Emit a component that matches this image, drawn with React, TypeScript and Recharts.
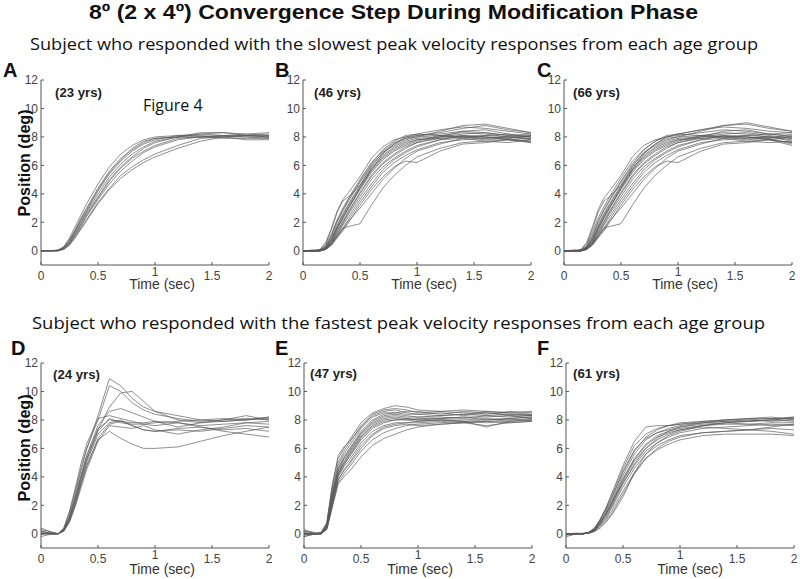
import React from 'react';
import { LineChart, Line, XAxis, YAxis } from 'recharts';

const TIME = [0, 0.1, 0.15, 0.2, 0.25, 0.3, 0.35, 0.4, 0.5, 0.6, 0.7, 0.8, 0.9, 1.0, 1.2, 1.4, 1.6, 1.8, 2.0];
const TIME_TICKS = [0, 0.5, 1, 1.5, 2];
const POS_TICKS = [0, 2, 4, 6, 8, 10, 12];

const TITLE = '8º (2 x 4º) Convergence Step During Modification Phase';
const SUB_SLOW = 'Subject who responded with the slowest peak velocity responses from each age group';
const SUB_FAST = 'Subject who responded with the fastest peak velocity responses from each age group';
const PANEL_LETTERS = ['A', 'B', 'C', 'D', 'E', 'F'];
const PANEL_AGES = ['(23 yrs)', '(46 yrs)', '(66 yrs)', '(24 yrs)', '(47 yrs)', '(61 yrs)'];
const X_LABEL = 'Time (sec)';
const Y_LABEL = 'Position (deg)';
const NOTE = 'Figure 4';

const A_TRACES = [
  [0, 0, 0.05, 0.3, 0.9, 1.7, 2.5, 3.3, 4.7, 5.9, 6.8, 7.4, 7.8, 8.0, 8.1, 8.1, 8.0, 8.1, 8.1],
  [0, 0, 0.05, 0.25, 0.8, 1.5, 2.3, 3.0, 4.4, 5.6, 6.5, 7.1, 7.6, 7.9, 8.0, 8.0, 8.1, 8.0, 8.0],
  [0, 0, 0, 0.2, 0.7, 1.4, 2.1, 2.8, 4.2, 5.4, 6.3, 7.0, 7.5, 7.8, 8.1, 8.2, 8.1, 8.2, 8.3],
  [0, 0, 0, 0.2, 0.6, 1.3, 2.0, 2.7, 4.0, 5.2, 6.1, 6.8, 7.3, 7.7, 8.0, 8.0, 7.9, 7.9, 7.9],
  [0, 0.02, 0.05, 0.2, 0.6, 1.2, 1.9, 2.6, 3.8, 5.0, 5.9, 6.6, 7.2, 7.6, 8.0, 8.2, 8.3, 8.1, 8.0],
  [0, 0, 0, 0.15, 0.5, 1.1, 1.8, 2.5, 3.7, 4.9, 5.8, 6.5, 7.0, 7.4, 7.9, 8.0, 8.0, 7.8, 7.8],
  [0, 0, 0, 0.15, 0.5, 1.1, 1.7, 2.4, 3.6, 4.7, 5.6, 6.3, 6.9, 7.3, 7.8, 8.0, 8.1, 8.1, 8.2],
  [0, 0, 0.02, 0.1, 0.4, 1.0, 1.6, 2.2, 3.4, 4.4, 5.3, 5.9, 6.4, 6.8, 7.4, 7.9, 8.0, 8.0, 7.9],
  [0, 0, 0, 0.1, 0.4, 0.9, 1.5, 2.1, 3.3, 4.3, 5.1, 5.7, 6.2, 6.6, 7.2, 7.7, 8.0, 8.1, 8.0],
  [0, 0.02, 0, 0.2, 0.7, 1.4, 2.2, 2.9, 4.3, 5.5, 6.4, 7.2, 7.7, 7.9, 8.0, 8.3, 8.3, 8.2, 8.1],
];

const B_TRACES = [
  [0, 0, 0.1, 0.6, 1.6, 2.8, 3.6, 4.1, 5.2, 6.5, 7.3, 7.8, 8.0, 8.1, 8.2, 8.4, 8.3, 8.1, 8.2],
  [0, 0, 0.05, 0.4, 1.2, 2.2, 3.0, 3.7, 5.0, 6.2, 7.0, 7.6, 7.9, 8.1, 8.3, 8.6, 8.8, 8.5, 8.3],
  [0, 0.05, 0.05, 0.3, 1.0, 2.0, 2.8, 3.5, 4.8, 6.0, 6.9, 7.4, 7.8, 8.0, 8.1, 8.0, 7.9, 8.0, 7.9],
  [0, 0, 0, 0.3, 0.9, 1.8, 2.6, 3.3, 4.6, 5.8, 6.7, 7.3, 7.7, 7.9, 8.0, 8.1, 8.0, 7.8, 7.7],
  [0, 0, 0, 0.2, 0.8, 1.7, 2.5, 3.2, 4.5, 5.7, 6.6, 7.2, 7.6, 7.8, 8.0, 8.2, 8.3, 8.1, 8.0],
  [0, -0.05, 0, 0.2, 0.7, 1.6, 2.4, 3.1, 4.4, 5.6, 6.5, 7.1, 7.5, 7.8, 7.9, 8.0, 8.1, 8.2, 8.0],
  [0, 0, 0, 0.2, 0.7, 1.5, 2.3, 3.0, 4.3, 5.5, 6.4, 7.0, 7.4, 7.7, 8.1, 8.3, 8.2, 8.0, 7.8],
  [0, 0, 0.05, 0.15, 0.6, 1.4, 2.1, 2.8, 4.1, 5.3, 6.2, 6.8, 7.3, 7.6, 7.9, 8.0, 7.8, 7.9, 8.1],
  [0, 0, 0, 0.15, 0.6, 1.3, 2.0, 2.7, 4.0, 5.2, 6.1, 6.7, 7.2, 7.6, 8.0, 8.4, 8.5, 8.2, 8.0],
  [0, 0, 0, 0.1, 0.5, 1.2, 1.9, 2.6, 3.8, 5.0, 5.9, 6.5, 7.0, 7.4, 7.8, 7.9, 7.7, 7.6, 7.8],
  [0, 0, 0, 0.1, 0.5, 1.1, 1.8, 2.4, 3.6, 4.7, 5.7, 6.4, 6.9, 7.3, 7.8, 8.1, 8.0, 7.9, 7.6],
  [0, 0.05, 0, 0.1, 0.4, 1.0, 1.6, 2.2, 3.4, 4.5, 5.5, 6.2, 6.7, 7.1, 7.6, 7.8, 7.9, 8.0, 7.9],
  [0, 0, 0, 0.1, 0.5, 1.1, 1.6, 1.7, 1.9, 3.2, 4.4, 5.3, 6.0, 6.6, 7.2, 7.6, 7.7, 7.8, 7.7],
  [0, 0, 0, 0.1, 0.4, 0.9, 1.4, 2.0, 3.2, 4.3, 5.2, 5.9, 6.3, 6.2, 7.0, 7.5, 7.6, 7.8, 7.6],
  [0, 0, 0.1, 0.5, 1.5, 2.7, 3.5, 3.8, 4.6, 5.9, 6.9, 7.5, 7.9, 8.0, 8.4, 8.8, 8.9, 8.6, 8.3],
  [0, 0, 0, 0.15, 0.5, 1.0, 1.5, 2.1, 3.0, 4.0, 5.0, 5.8, 6.5, 7.0, 7.5, 7.9, 8.0, 7.8, 7.9],
  [0, 0, 0, 0.2, 0.8, 1.6, 2.3, 3.0, 4.4, 5.7, 6.8, 7.5, 8.0, 8.2, 8.5, 8.7, 8.6, 8.4, 8.2],
  [0, 0, 0.05, 0.3, 1.1, 2.1, 2.9, 3.6, 4.9, 6.1, 7.1, 7.7, 8.1, 8.2, 8.1, 8.0, 8.1, 8.0, 8.1],
];

const C_TRACES = [
  [0, 0, 0.1, 0.6, 1.7, 2.9, 3.7, 4.2, 5.3, 6.6, 7.4, 7.8, 8.0, 8.1, 8.3, 8.5, 8.4, 8.2, 8.3],
  [0, 0, 0.05, 0.4, 1.3, 2.3, 3.1, 3.8, 5.1, 6.3, 7.1, 7.7, 8.0, 8.2, 8.5, 8.8, 9.0, 8.7, 8.4],
  [0, 0.05, 0, 0.3, 1.0, 2.0, 2.8, 3.5, 4.8, 6.0, 6.9, 7.4, 7.8, 8.0, 8.1, 8.0, 7.9, 8.0, 8.0],
  [0, 0, 0, 0.3, 0.9, 1.8, 2.6, 3.3, 4.6, 5.8, 6.7, 7.3, 7.7, 7.9, 8.0, 8.1, 8.0, 7.8, 7.6],
  [0, 0, 0, 0.2, 0.8, 1.7, 2.5, 3.2, 4.5, 5.7, 6.6, 7.2, 7.6, 7.8, 8.0, 8.2, 8.3, 8.1, 7.9],
  [0, -0.05, 0, 0.2, 0.7, 1.6, 2.4, 3.1, 4.4, 5.6, 6.5, 7.1, 7.5, 7.8, 7.9, 8.0, 8.1, 8.2, 8.1],
  [0, 0, 0, 0.2, 0.7, 1.5, 2.3, 3.0, 4.3, 5.5, 6.4, 7.0, 7.4, 7.7, 8.1, 8.3, 8.2, 8.0, 7.7],
  [0, 0, 0.05, 0.15, 0.6, 1.4, 2.1, 2.8, 4.1, 5.3, 6.2, 6.8, 7.3, 7.6, 7.9, 8.0, 7.8, 7.9, 8.2],
  [0, 0, 0, 0.15, 0.6, 1.3, 2.0, 2.7, 4.0, 5.2, 6.1, 6.7, 7.2, 7.6, 8.0, 8.4, 8.5, 8.2, 8.0],
  [0, 0, 0, 0.1, 0.5, 1.2, 1.9, 2.6, 3.8, 5.0, 5.9, 6.5, 7.0, 7.4, 7.8, 7.9, 7.7, 7.6, 7.7],
  [0, 0, 0, 0.1, 0.5, 1.1, 1.8, 2.4, 3.6, 4.7, 5.7, 6.4, 6.9, 7.3, 7.8, 8.1, 8.0, 7.9, 7.5],
  [0, 0.05, 0, 0.1, 0.4, 1.0, 1.6, 2.2, 3.4, 4.5, 5.5, 6.2, 6.7, 7.1, 7.6, 7.8, 7.9, 8.0, 7.8],
  [0, 0, 0, 0.1, 0.5, 1.1, 1.6, 1.7, 1.9, 3.2, 4.4, 5.3, 6.0, 6.6, 7.2, 7.6, 7.7, 7.8, 7.6],
  [0, 0, 0, 0.1, 0.4, 0.9, 1.4, 2.0, 3.2, 4.3, 5.2, 5.9, 6.3, 6.2, 7.0, 7.5, 7.6, 7.8, 7.4],
  [0, 0, 0.1, 0.5, 1.5, 2.7, 3.5, 3.8, 4.6, 5.9, 6.9, 7.5, 7.9, 8.0, 8.4, 8.8, 8.9, 8.6, 8.4],
  [0, 0, 0, 0.15, 0.5, 1.0, 1.5, 2.1, 3.0, 4.0, 5.0, 5.8, 6.5, 7.0, 7.5, 7.9, 8.0, 7.8, 8.0],
  [0, 0, 0, 0.2, 0.8, 1.6, 2.3, 3.0, 4.4, 5.7, 6.8, 7.5, 8.0, 8.2, 8.5, 8.7, 8.6, 8.4, 8.3],
  [0, 0, 0.05, 0.3, 1.1, 2.1, 2.9, 3.6, 4.9, 6.1, 7.1, 7.7, 8.1, 8.2, 8.1, 8.0, 8.1, 8.0, 7.9],
];

const D_TRACES = [
  [0.2, 0, 0, 0.3, 1.3, 2.8, 4.4, 5.9, 8.3, 10.9, 10.4, 9.5, 8.9, 8.6, 8.3, 8.0, 7.9, 8.0, 8.1],
  [0.3, 0.1, 0, 0.4, 1.5, 3.0, 4.6, 6.0, 8.0, 10.4, 10.0, 9.2, 8.7, 8.4, 8.1, 7.9, 8.0, 8.1, 8.0],
  [0, 0, 0, 0.2, 1.0, 2.3, 3.8, 5.2, 7.3, 8.9, 9.9, 10.0, 9.3, 8.6, 8.0, 7.8, 7.9, 8.0, 8.2],
  [0, 0.1, 0, 0.3, 1.2, 2.6, 4.1, 5.5, 7.6, 8.6, 8.8, 8.5, 8.2, 7.9, 7.8, 7.6, 7.7, 7.8, 7.9],
  [0.4, 0.1, 0, 0.4, 1.6, 3.2, 4.9, 6.3, 8.1, 8.3, 8.1, 7.9, 7.7, 7.6, 7.8, 7.5, 7.2, 7.0, 6.8],
  [0, 0, 0, 0.2, 1.0, 2.2, 3.5, 4.8, 6.6, 7.2, 6.7, 6.3, 6.0, 6.0, 6.1, 6.5, 6.9, 7.2, 7.5],
  [0, 0, 0, 0.2, 0.9, 2.0, 3.4, 4.7, 6.7, 7.7, 7.9, 7.6, 7.3, 7.2, 7.3, 7.2, 7.4, 7.6, 7.5],
  [0.1, 0, 0, 0.3, 1.2, 2.5, 4.0, 5.4, 7.4, 8.0, 7.9, 7.8, 7.8, 7.9, 7.5, 7.8, 8.0, 8.3, 8.0],
  [-0.2, 0, 0, 0.2, 0.8, 1.9, 3.2, 4.5, 6.5, 7.6, 7.5, 7.4, 7.6, 7.3, 7.0, 7.3, 7.5, 7.8, 7.7],
  [0.2, 0, 0, 0.3, 1.1, 2.4, 3.9, 5.2, 7.2, 8.1, 7.8, 7.7, 7.7, 7.8, 7.9, 8.0, 8.1, 8.0, 8.2],
  [0, 0, 0, 0.2, 0.9, 2.1, 3.6, 5.0, 7.0, 7.8, 8.0, 7.6, 7.3, 7.2, 7.4, 7.5, 7.3, 7.4, 7.2],
];

const E_TRACES = [
  [0.2, 0, 0.05, 0.8, 3.6, 5.3, 6.0, 6.6, 7.8, 8.5, 8.8, 9.0, 8.9, 8.7, 8.6, 8.7, 8.6, 8.5, 8.6],
  [0, 0, 0.1, 0.7, 3.2, 5.0, 5.8, 6.4, 7.6, 8.4, 8.7, 8.8, 8.7, 8.5, 8.6, 8.5, 8.4, 8.6, 8.5],
  [-0.2, 0, 0, 0.6, 3.0, 4.8, 5.6, 6.2, 7.4, 8.2, 8.5, 8.5, 8.4, 8.4, 8.5, 8.3, 8.5, 8.4, 8.3],
  [0.3, 0, 0.05, 0.6, 2.9, 4.6, 5.4, 6.0, 7.2, 8.0, 8.4, 8.5, 8.6, 8.6, 8.4, 8.6, 8.5, 8.3, 8.4],
  [0, 0, 0, 0.5, 2.7, 4.4, 5.2, 5.8, 7.0, 7.8, 8.2, 8.3, 8.2, 8.2, 8.3, 8.4, 8.3, 8.2, 8.3],
  [0.1, 0, 0, 0.5, 2.6, 4.3, 5.0, 5.6, 6.8, 7.6, 8.0, 8.1, 8.0, 8.1, 8.1, 8.2, 8.2, 8.3, 8.1],
  [0, 0, 0.05, 0.5, 2.5, 4.2, 4.9, 5.4, 6.6, 7.4, 7.8, 8.0, 8.0, 7.9, 8.0, 8.0, 8.1, 8.0, 8.0],
  [-0.1, 0, 0, 0.4, 2.3, 4.0, 4.7, 5.2, 6.4, 7.2, 7.6, 7.8, 7.8, 7.8, 7.9, 7.8, 7.6, 7.8, 7.9],
  [0, 0, 0, 0.4, 2.2, 3.8, 4.5, 5.0, 6.2, 7.0, 7.5, 7.7, 7.8, 7.9, 8.0, 7.9, 8.0, 8.1, 8.2],
  [0, 0, 0, 0.3, 2.0, 3.6, 4.2, 4.7, 5.8, 6.6, 7.1, 7.4, 7.6, 7.7, 7.8, 7.9, 7.8, 7.9, 8.0],
  [0, 0, 0, 0.3, 1.9, 3.5, 4.0, 4.4, 5.4, 6.2, 6.7, 7.0, 7.3, 7.5, 7.7, 7.8, 7.9, 8.0, 8.1],
  [0, 0, 0.1, 0.7, 3.4, 5.5, 6.1, 6.5, 7.5, 8.3, 8.6, 8.7, 8.5, 8.4, 8.3, 8.4, 8.6, 8.5, 8.4],
  [0.2, 0.1, 0, 0.6, 2.8, 4.5, 5.3, 5.9, 7.1, 7.9, 8.3, 8.4, 8.3, 8.2, 8.2, 8.1, 8.3, 8.4, 8.3],
  [-0.2, 0, 0, 0.5, 2.6, 4.2, 5.0, 5.7, 6.9, 7.7, 8.1, 8.2, 8.1, 8.0, 8.1, 8.2, 8.0, 8.1, 8.2],
  [0, 0.05, 0, 0.5, 2.4, 4.1, 4.8, 5.5, 6.7, 7.5, 7.9, 8.0, 8.1, 8.0, 8.0, 7.9, 7.5, 7.9, 8.0],
  [0, 0, 0, 0.4, 2.1, 3.8, 4.4, 4.9, 6.0, 6.9, 7.4, 7.6, 7.7, 7.6, 7.7, 7.8, 7.9, 7.8, 7.9],
];

const F_TRACES = [
  [0, 0, 0, 0.1, 0.4, 1.0, 1.8, 2.8, 4.8, 6.5, 7.5, 7.6, 7.6, 7.7, 7.8, 7.9, 8.0, 7.9, 8.0],
  [0, 0, 0, 0.1, 0.4, 1.0, 1.8, 2.7, 4.6, 6.2, 7.0, 7.4, 7.6, 7.7, 7.9, 8.0, 8.0, 8.1, 8.1],
  [0, 0, 0.05, 0.1, 0.3, 0.9, 1.6, 2.5, 4.3, 5.8, 6.8, 7.3, 7.6, 7.8, 7.9, 8.0, 8.1, 8.1, 8.2],
  [-0.1, 0, 0, 0.1, 0.3, 0.8, 1.5, 2.3, 4.1, 5.6, 6.6, 7.1, 7.4, 7.6, 7.8, 7.9, 7.9, 8.0, 7.9],
  [0, 0, 0, 0.05, 0.3, 0.8, 1.4, 2.2, 3.9, 5.3, 6.3, 6.9, 7.2, 7.4, 7.6, 7.8, 7.9, 8.0, 8.1],
  [0, 0, 0, 0.05, 0.2, 0.7, 1.3, 2.0, 3.7, 5.1, 6.0, 6.6, 7.0, 7.3, 7.6, 7.7, 7.7, 7.8, 7.8],
  [0, 0, 0, 0.1, 0.3, 0.8, 1.4, 2.1, 3.6, 4.8, 5.8, 6.4, 6.8, 7.1, 7.4, 7.5, 7.6, 7.7, 7.6],
  [0, 0, 0, 0.05, 0.2, 0.6, 1.1, 1.8, 3.3, 4.6, 5.6, 6.2, 6.6, 6.9, 7.1, 7.2, 7.3, 7.4, 7.3],
  [0, 0, 0, 0.05, 0.2, 0.6, 1.0, 1.6, 3.0, 4.3, 5.3, 5.9, 6.3, 6.6, 6.9, 7.0, 7.0, 7.0, 6.9],
  [0, 0, 0, 0.05, 0.2, 0.5, 0.9, 1.4, 2.8, 4.2, 5.3, 6.0, 6.5, 6.8, 7.1, 7.2, 7.3, 7.5, 7.7],
  [0, 0, 0, 0.05, 0.15, 0.4, 0.8, 1.3, 2.6, 4.3, 5.6, 6.4, 6.9, 7.2, 7.6, 7.8, 7.9, 8.0, 8.2],
  [-0.2, 0, 0, 0.1, 0.4, 1.0, 1.7, 2.5, 4.4, 5.9, 6.7, 7.1, 7.3, 7.5, 7.7, 7.8, 7.7, 7.6, 7.7],
  [0, 0, 0, 0.1, 0.3, 0.8, 1.4, 2.1, 3.8, 5.2, 6.2, 6.8, 7.1, 7.3, 7.5, 7.4, 7.3, 7.2, 7.0],
  [0, 0.05, 0, 0.05, 0.2, 0.7, 1.2, 1.9, 3.5, 4.9, 6.0, 6.7, 7.2, 7.5, 7.8, 8.0, 8.1, 8.2, 8.0],
];

const PANEL_TRACES = [A_TRACES, B_TRACES, C_TRACES, D_TRACES, E_TRACES, F_TRACES];

// layout (plot-area boxes)
const PLOT_LEFTS = [41, 303, 564, 41, 304, 566];
const ROW_TOPS = [80, 80, 80, 363, 363, 363];
const PLOT_W = 228;
const PLOT_H = 185;
const ML = 40;
const MT = 12;
const MR = 12;
const XH = 30;

function buildRows(traces: number[][]) {
  return TIME.map((t, i) => {
    const row: Record<string, number> = { t };
    traces.forEach((tr, j) => {
      row['s' + j] = tr[i];
    });
    return row;
  });
}

const FONT = 'Arial, "Liberation Sans", sans-serif';
const tickStyle = { fill: '#444', fontSize: 12, fontFamily: FONT };

function XTick(props: any) {
  const { x, y, payload } = props;
  const v = payload.value;
  return (
    <text x={x} y={y + (v === 1 ? 6 : 10)} textAnchor="middle" fill="#444" fontSize={12} fontFamily={FONT}>
      {String(v)}
    </text>
  );
}

function Panel({ idx }: { idx: number }) {
  const traces = PANEL_TRACES[idx];
  const rows = buildRows(traces);
  return (
    <div style={{ position: 'absolute', left: PLOT_LEFTS[idx] - ML, top: ROW_TOPS[idx] - MT }}>
      <LineChart
        width={PLOT_W + ML + MR}
        height={PLOT_H + MT + XH}
        data={rows}
        margin={{ top: MT, right: MR, left: 0, bottom: 0 }}
      >
        <XAxis
          type="number"
          dataKey="t"
          domain={[0, 2]}
          ticks={TIME_TICKS}
          height={XH}
          tickSize={-3}
          tickMargin={8}
          tick={<XTick />}
          axisLine={{ stroke: '#555' }}
          tickLine={{ stroke: '#555' }}
        />
        <YAxis
          type="number"
          domain={[-1, 12]}
          ticks={POS_TICKS}
          width={ML}
          tickSize={-3}
          tickMargin={6}
          tick={tickStyle}
          allowDataOverflow
          axisLine={{ stroke: '#555' }}
          tickLine={{ stroke: '#555' }}
        />
        {traces.map((_, j) => (
          <Line
            key={j}
            type="linear"
            dataKey={'s' + j}
            stroke="#5a5a5a"
            strokeOpacity={0.75}
            strokeWidth={0.9}
            dot={false}
            activeDot={false}
            isAnimationActive={false}
          />
        ))}
      </LineChart>
    </div>
  );
}

const LETTER_POS = [
  [3, 77], [275, 77], [537, 77], [11, 355], [275, 355], [537, 355],
];
const AGE_POS = [
  [55, 97], [314, 97], [573, 97], [53, 379], [310, 378], [573, 378],
];
const XLABEL_POS = [
  [162, 289], [424, 289], [685, 289], [162, 574], [420, 574], [690, 574],
];
const YLABEL_POS = [
  [30, 163], [30, 448],
];

export default function App() {
  const sans = '"Open Sans", "Noto Sans", sans-serif';
  return (
    <div style={{ position: 'absolute', left: 0, top: 0, width: 800, height: 579, background: '#fff', overflow: 'hidden' }}>
      {PANEL_TRACES.map((_, i) => (
        <Panel key={i} idx={i} />
      ))}
      <svg width={800} height={579} style={{ position: 'absolute', left: 0, top: 0, pointerEvents: 'none' }}>
        <text x={89} y={19} fontFamily={FONT} fontWeight="bold" fontSize={21} fill="#111" textLength={609} lengthAdjust="spacingAndGlyphs">
          {TITLE}
        </text>
        <text x={30} y={50} fontFamily={sans} fontSize={17} fill="#111" textLength={728} lengthAdjust="spacingAndGlyphs">
          {SUB_SLOW}
        </text>
        <text x={32} y={329} fontFamily={sans} fontSize={17} fill="#111" textLength={733} lengthAdjust="spacingAndGlyphs">
          {SUB_FAST}
        </text>
        {PANEL_LETTERS.map((l, i) => (
          <text key={'l' + i} x={LETTER_POS[i][0]} y={LETTER_POS[i][1]} fontFamily={FONT} fontWeight="bold" fontSize={20} fill="#111">
            {l}
          </text>
        ))}
        {PANEL_AGES.map((a, i) => (
          <text key={'a' + i} x={AGE_POS[i][0]} y={AGE_POS[i][1]} fontFamily={FONT} fontWeight="bold" fontSize={13} fill="#222" textLength={47} lengthAdjust="spacingAndGlyphs">
            {a}
          </text>
        ))}
        {XLABEL_POS.map((p, i) => (
          <text key={'x' + i} x={p[0]} y={p[1]} textAnchor="middle" fontFamily={FONT} fontSize={14} fill="#333">
            {X_LABEL}
          </text>
        ))}
        {YLABEL_POS.map((p, i) => (
          <text key={'y' + i} transform={`translate(${p[0]},${p[1]}) rotate(-90)`} textAnchor="middle" fontFamily={FONT} fontWeight="bold" fontSize={16} fill="#111" textLength={107} lengthAdjust="spacingAndGlyphs">
            {Y_LABEL}
          </text>
        ))}
        <text x={143} y={111} fontFamily={sans} fontSize={16} fill="#111">
          {NOTE}
        </text>
      </svg>
    </div>
  );
}
